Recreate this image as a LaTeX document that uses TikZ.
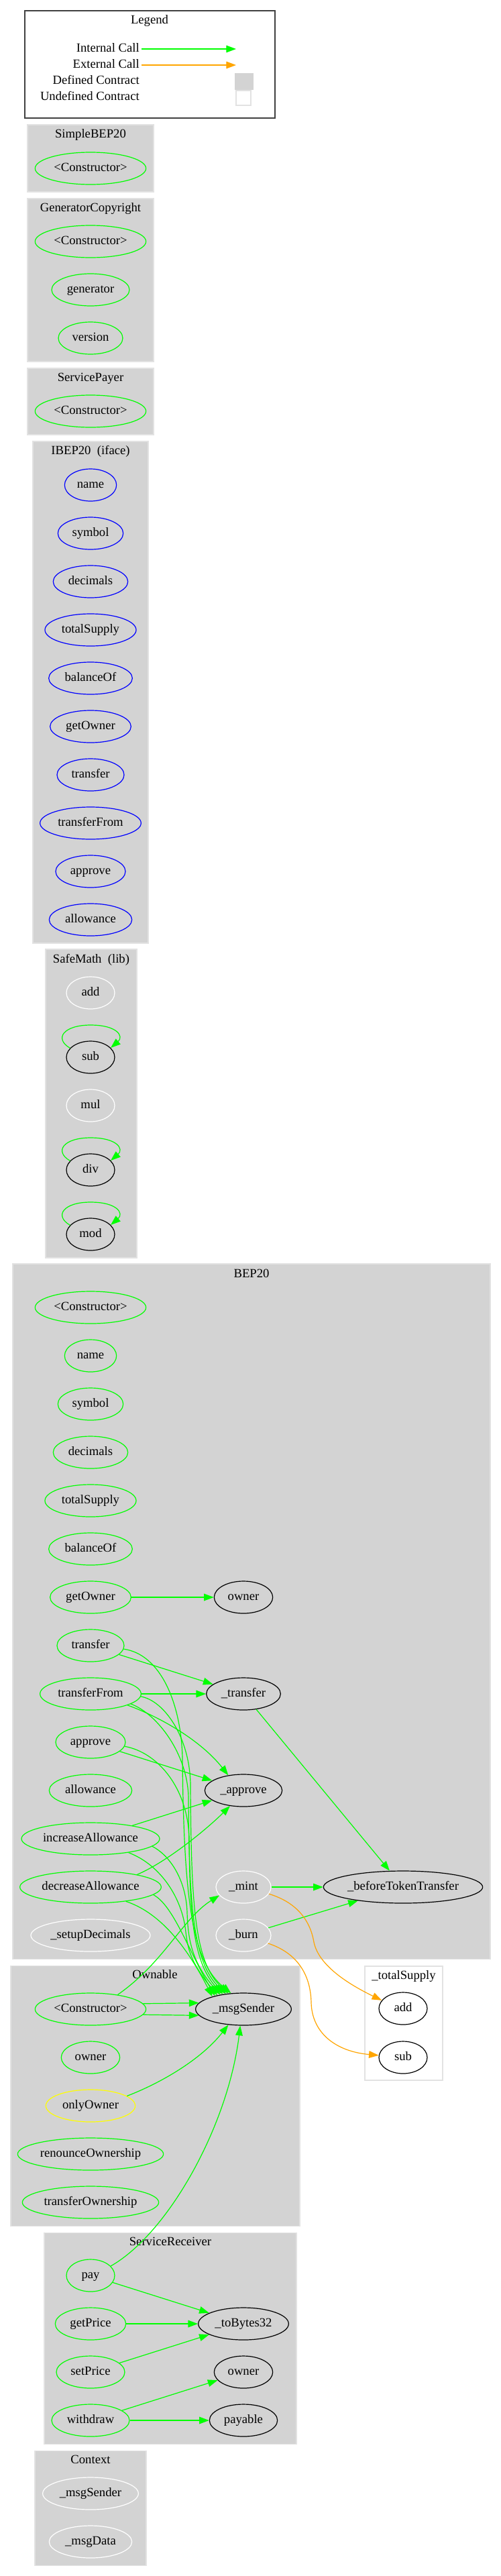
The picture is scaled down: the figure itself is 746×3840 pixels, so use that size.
\documentclass[tikz,border=0pt]{standalone}
\usepackage{fontspec}
\setmainfont{Liberation Serif}
\usetikzlibrary{shapes.geometric,arrows.meta,calc}
\definecolor{gvgreen}{HTML}{00FF00}
\definecolor{gvorange}{HTML}{FFA500}
\definecolor{gvblue}{HTML}{0000FF}
\definecolor{gvyellow}{HTML}{FFFF00}
\definecolor{lgray}{HTML}{D3D3D3}
\definecolor{cborder}{HTML}{E2E2E2}
\newcommand{\zt}[1]{\makebox[0pt]{#1}}
\begin{document}
\begin{tikzpicture}[x=0.75pt,y=-0.75pt,
  font=\fontsize{14pt}{17pt}\selectfont,
  fn/.style={ellipse, draw, inner sep=0pt, minimum height=36pt, text height=9.5pt, text depth=3pt, line width=0.9pt},
  mw/.style={minimum width=#1pt},
  gfn/.style={fn, draw=gvgreen},
  bfn/.style={fn, draw=gvblue},
  wfn/.style={fn, draw=white},
  kfn/.style={fn, draw=black},
  yfn/.style={fn, draw=gvyellow},
  cluster/.style={fill=lgray, draw=cborder, line width=0.8pt},
  ucluster/.style={fill=white, draw=cborder, line width=1pt},
  ctitle/.style={inner sep=0pt, text height=9.5pt, text depth=3pt},
  call/.style={draw=gvgreen, line width=0.9pt, -{Triangle[length=11pt,width=8pt]}},
  ext/.style={call, draw=gvorange}
]
\useasboundingbox (0,0) rectangle (746,3840);

% ---------------- Legend ----------------
\draw[black!75, line width=0.8pt] (37,16) rectangle (410,176);
\node[ctitle] (lg_title) at (223,31) {Legend};
\node[ctitle, anchor=east] (lg_int) at (208,73) {Internal Call};
\node[ctitle, anchor=east] (lg_ext) at (208,97) {External Call};
\node[ctitle, anchor=east] (lg_def) at (208,121) {Defined Contract};
\node[ctitle, anchor=east] (lg_undef) at (208,145) {Undefined Contract};
\coordinate (lg_int_s) at (211,73);
\coordinate (lg_int_e) at (352,73);
\coordinate (lg_ext_s) at (211,97);
\coordinate (lg_ext_e) at (352,97);
\draw[call] (lg_int_s) -- (lg_int_e);
\draw[ext] (lg_ext_s) -- (lg_ext_e);
\node[draw=lgray, fill=lgray, minimum width=20pt, minimum height=18pt, inner sep=0pt] (lg_defbox) at (363.5,121) {};
\node[draw=cborder, line width=1pt, fill=white, minimum width=16.5pt, minimum height=16.5pt, inner sep=0pt] (lg_undefbox) at (363,146) {};

% ---------------- Clusters ----------------
\filldraw[cluster] (41,186) rectangle (229,286);
\node[ctitle] (t_sb) at (135,201) {SimpleBEP20};
\filldraw[cluster] (41,296) rectangle (229,539);
\node[ctitle] (t_gc) at (135,311) {GeneratorCopyright};
\filldraw[cluster] (41,549) rectangle (229,648);
\node[ctitle] (t_sp) at (135,564) {ServicePayer};
\filldraw[cluster] (49,658) rectangle (221,1406);
\node[ctitle] (t_ib) at (135,673) {IBEP20\ \ (iface)};
\filldraw[cluster] (68,1415) rectangle (204,1875);
\node[ctitle] (t_sm) at (136,1431) {SafeMath\ \ (lib)};
\filldraw[cluster] (19,1884) rectangle (731,2920);
\node[ctitle] (t_b) at (375,1900) {BEP20};
\filldraw[ucluster] (544,2931) rectangle (660,3101);
\node[ctitle] (t_ts) at (602,2946) {\_totalSupply};
\filldraw[cluster] (16,2930) rectangle (447,3318);
\node[ctitle] (t_o) at (231,2945) {Ownable};
\filldraw[cluster] (66,3328) rectangle (442,3643);
\node[ctitle] (t_sr) at (254,3343) {ServiceReceiver};
\filldraw[cluster] (52,3653) rectangle (218,3824);
\node[ctitle] (t_c) at (135,3668) {Context};

% ---------------- Nodes ----------------
\node[gfn, mw=124] (sb_ctor) at (135,251) {\zt{<Constructor>}};

\node[gfn, mw=124] (gc_ctor) at (135,360) {\zt{<Constructor>}};
\node[gfn, mw=87] (gc_gen) at (135,432) {\zt{generator}};
\node[gfn, mw=72] (gc_ver) at (135,504) {\zt{version}};

\node[gfn, mw=124] (sp_ctor) at (135,613) {\zt{<Constructor>}};

\node[bfn, mw=58] (ib_name) at (135,723) {\zt{name}};
\node[bfn, mw=73] (ib_symbol) at (135,795) {\zt{symbol}};
\node[bfn, mw=83.5] (ib_decimals) at (135,867) {\zt{decimals}};
\node[bfn, mw=102] (ib_total) at (135,939) {\zt{totalSupply}};
\node[bfn, mw=93.5] (ib_bal) at (135,1011) {\zt{balanceOf}};
\node[bfn, mw=90.5] (ib_getowner) at (135,1083) {\zt{getOwner}};
\node[bfn, mw=75] (ib_transfer) at (135,1155) {\zt{transfer}};
\node[bfn, mw=113] (ib_tf) at (135,1227) {\zt{transferFrom}};
\node[bfn, mw=78] (ib_approve) at (135,1299) {\zt{approve}};
\node[bfn, mw=92.5] (ib_allow) at (135,1371) {\zt{allowance}};

\node[wfn, mw=54] (sm_add) at (135,1480) {\zt{add}};
\node[kfn, mw=54] (sm_sub) at (135,1576) {\zt{sub}};
\node[wfn, mw=54] (sm_mul) at (135,1648) {\zt{mul}};
\node[kfn, mw=54] (sm_div) at (135,1744) {\zt{div}};
\node[kfn, mw=54] (sm_mod) at (135,1840) {\zt{mod}};

\node[gfn, mw=124] (b_ctor) at (135,1949) {\zt{<Constructor>}};
\node[gfn, mw=58] (b_name) at (135,2021) {\zt{name}};
\node[gfn, mw=73] (b_symbol) at (135,2093) {\zt{symbol}};
\node[gfn, mw=83.5] (b_decimals) at (135,2165) {\zt{decimals}};
\node[gfn, mw=102] (b_total) at (135,2237) {\zt{totalSupply}};
\node[gfn, mw=93.5] (b_bal) at (135,2309) {\zt{balanceOf}};
\node[gfn, mw=90.5] (b_getowner) at (135,2381) {\zt{getOwner}};
\node[gfn, mw=75] (b_transfer) at (135,2453) {\zt{transfer}};
\node[gfn, mw=113] (b_tf) at (135,2525) {\zt{transferFrom}};
\node[gfn, mw=78] (b_approve) at (135,2597) {\zt{approve}};
\node[gfn, mw=92.5] (b_allow) at (135,2669) {\zt{allowance}};
\node[gfn, mw=154.5] (b_inc) at (135,2741) {\zt{increaseAllowance}};
\node[gfn, mw=158] (b_dec) at (135,2813) {\zt{decreaseAllowance}};
\node[wfn, mw=133.5] (b_setup) at (135,2885) {\zt{\_setupDecimals}};

\node[kfn, mw=65.5] (b_owner) at (363,2381) {\zt{owner}};
\node[kfn, mw=83] (b_itransfer) at (363,2525) {\zt{\_transfer}};
\node[kfn, mw=86.5] (b_iapprove) at (363,2669) {\zt{\_approve}};
\node[wfn, mw=61.5] (b_mint) at (363,2813) {\zt{\_mint}};
\node[wfn, mw=61.5] (b_burn) at (363,2885) {\zt{\_burn}};
\node[kfn, mw=178] (b_before) at (601,2813) {\zt{\_beforeTokenTransfer}};

\node[kfn, mw=54] (ts_add) at (601,2994) {\zt{add}};
\node[kfn, mw=54] (ts_sub) at (601,3067) {\zt{sub}};

\node[gfn, mw=124] (o_ctor) at (135,2995) {\zt{<Constructor>}};
\node[gfn, mw=65.5] (o_owner) at (135,3067) {\zt{owner}};
\node[yfn, mw=100] (o_only) at (135,3139) {\zt{onlyOwner}};
\node[gfn, mw=163] (o_renounce) at (135,3211) {\zt{renounceOwnership}};
\node[gfn, mw=152.5] (o_transfer) at (135,3283) {\zt{transferOwnership}};
\node[kfn, mw=107] (o_msg) at (363,2995) {\zt{\_msgSender}};

\node[gfn, mw=54] (sr_pay) at (135,3392) {\zt{pay}};
\node[gfn, mw=79] (sr_get) at (135,3464) {\zt{getPrice}};
\node[gfn, mw=76.5] (sr_set) at (135,3536) {\zt{setPrice}};
\node[gfn, mw=87] (sr_withdraw) at (135,3608) {\zt{withdraw}};
\node[kfn, mw=101] (sr_tob) at (363,3464) {\zt{\_toBytes32}};
\node[kfn, mw=65.5] (sr_owner) at (363,3536) {\zt{owner}};
\node[kfn, mw=76] (sr_payable) at (363,3608) {\zt{payable}};

\node[wfn, mw=107] (c_msg) at (135,3717) {\zt{\_msgSender}};
\node[wfn, mw=92.5] (c_data) at (135,3789) {\zt{\_msgData}};

% ---------------- Edges ----------------
% SafeMath self loops
\foreach \n in {sm_sub, sm_div, sm_mod}{
  \draw[call] (\n.156) .. controls ($(\n)+(-55,-28)$) and ($(\n)+(-40,-48)$) .. ($(\n)+(0,-48)$)
     .. controls ($(\n)+(40,-48)$) and ($(\n)+(50,-31)$) .. (\n.25);
}

% BEP20 straight calls
\draw[call] (b_getowner) -- (b_owner);
\draw[call] (b_transfer) -- (b_itransfer);
\draw[call] (b_tf) -- (b_itransfer);
\draw[call] (b_approve) -- (b_iapprove);
\draw[call] (b_inc) -- (b_iapprove);
\draw[call] (b_itransfer) -- (b_before);
\draw[call] (b_mint) -- (b_before);
\draw[call] (b_burn) -- (b_before);
\draw[call] (b_tf.-17) .. controls (240,2560) and (300,2595) .. (b_iapprove.135);
\draw[call] (b_dec.15) .. controls (250,2775) and (310,2725) .. (b_iapprove.-131);

% calls to _msgSender
\draw[call] (b_transfer.-6) .. controls (240,2466) and (270,2540) .. (272,2620) .. controls (274,2840) and (288,2925) .. (o_msg.128);
\draw[call] (b_tf.-3) .. controls (245,2535) and (283,2590) .. (284,2660) .. controls (285,2840) and (290,2925) .. (o_msg.134);
\draw[call] (b_tf.-14) .. controls (235,2555) and (280,2615) .. (281,2680) .. controls (282,2840) and (288,2925) .. (o_msg.139);
\draw[call] (b_approve.-7) .. controls (235,2612) and (280,2665) .. (282,2740) .. controls (283,2850) and (287,2925) .. (o_msg.144);
\draw[call] (b_inc.-7.5) .. controls (252,2765) and (277,2800) .. (279,2850) .. controls (280,2890) and (286,2925) .. (o_msg.148);
\draw[call] (b_inc.-20) .. controls (240,2780) and (272,2830) .. (277,2880) .. controls (280,2905) and (284,2925) .. (o_msg.152);
\draw[call] (b_dec.-7.5) .. controls (258,2840) and (280,2905) .. (o_msg.155);
\draw[call] (b_dec.-22) .. controls (235,2850) and (275,2895) .. (o_msg.158);

% external calls
\draw[ext] (b_mint.-15) .. controls (440,2835) and (462,2860) .. (468,2895) .. controls (475,2930) and (520,2958) .. (ts_add.159);
\draw[ext] (b_burn.-18) .. controls (440,2910) and (463,2940) .. (464,2985) .. controls (465,3030) and (500,3058) .. (ts_sub.175);

% Ownable
\draw[call] (o_ctor.6.7) -- (o_msg.172.2);
\draw[call] (o_ctor.-6.7) -- (o_msg.-172.2);
\draw[call] (o_ctor.28) .. controls (245,2925) and (272,2860) .. (b_mint.199);
\draw[call] (o_only.15) .. controls (240,3105) and (300,3070) .. (o_msg.226);

% ServiceReceiver
\draw[call] (sr_pay.25) .. controls (250,3330) and (340,3170) .. (o_msg.-101);
\draw[call] (sr_pay) -- (sr_tob);
\draw[call] (sr_get) -- (sr_tob);
\draw[call] (sr_set) -- (sr_tob);
\draw[call] (sr_withdraw) -- (sr_owner);
\draw[call] (sr_withdraw) -- (sr_payable);
\end{tikzpicture}
\end{document}
